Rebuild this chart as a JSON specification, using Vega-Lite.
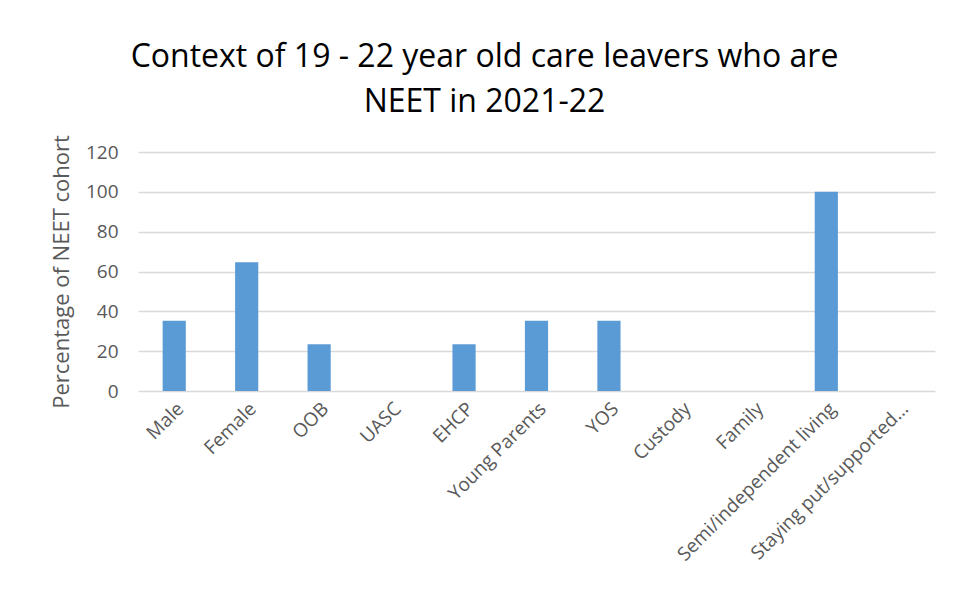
{
  "$schema": "https://vega.github.io/schema/vega-lite/v6.json",
  "width": 797,
  "height": 239,
  "padding": {"left": 50, "top": 40, "right": 18, "bottom": 5},
  "background": "white",
  "title": {
    "text": ["Context of 19 - 22 year old care leavers who are", "NEET in 2021-22"],
    "font": "Open Sans",
    "fontSize": 32,
    "fontWeight": "normal",
    "color": "#000000",
    "lineHeight": 45,
    "anchor": "middle",
    "dx": -52,
    "offset": 16
  },
  "data": {
    "values": [
      {"category": "Male", "pct": 35.3},
      {"category": "Female", "pct": 64.7},
      {"category": "OOB", "pct": 23.5},
      {"category": "UASC", "pct": 0},
      {"category": "EHCP", "pct": 23.5},
      {"category": "Young Parents", "pct": 35.3},
      {"category": "YOS", "pct": 35.3},
      {"category": "Custody", "pct": 0},
      {"category": "Family", "pct": 0},
      {"category": "Semi/independent living", "pct": 100},
      {"category": "Staying put/supported…", "pct": 0}
    ]
  },
  "mark": {"type": "bar", "color": "#5B9BD5"},
  "encoding": {
    "x": {
      "field": "category",
      "type": "nominal",
      "sort": null,
      "scale": {"paddingInner": 0.68, "paddingOuter": 0.34},
      "axis": {
        "title": null,
        "labelAngle": -45,
        "labelFont": "Open Sans",
        "labelFontSize": 19,
        "labelColor": "#595959",
        "labelLimit": 300,
        "ticks": false,
        "domain": false,
        "labelPadding": 8
      }
    },
    "y": {
      "field": "pct",
      "type": "quantitative",
      "scale": {"domain": [0, 120]},
      "axis": {
        "title": "Percentage of NEET cohort",
        "titleFont": "Open Sans",
        "titleFontSize": 22,
        "titleFontWeight": "normal",
        "titleColor": "#595959",
        "titlePadding": 12,
        "values": [0, 20, 40, 60, 80, 100, 120],
        "labelFont": "Open Sans",
        "labelFontSize": 19,
        "labelColor": "#595959",
        "labelPadding": 20,
        "ticks": false,
        "domain": false,
        "grid": true,
        "gridColor": "#D9D9D9",
        "gridWidth": 1.5
      }
    }
  },
  "config": {
    "view": {"stroke": null}
  }
}
